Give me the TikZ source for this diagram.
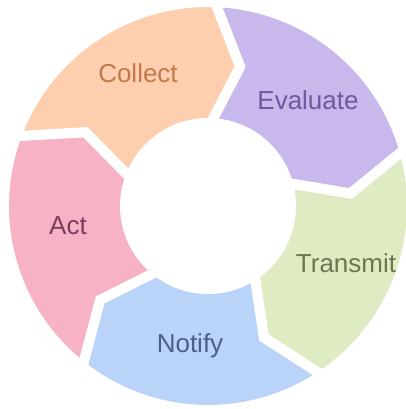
\documentclass[tikz,border=0pt]{standalone}
\usepackage{fontspec}
\setmainfont{Liberation Sans}
\definecolor{collectfill}{HTML}{FDCFAE}
\definecolor{collecttext}{HTML}{C17A4E}
\definecolor{evalfill}{HTML}{C9B8EC}
\definecolor{evaltext}{HTML}{6B5A9E}
\definecolor{transfill}{HTML}{DFEBC3}
\definecolor{transtext}{HTML}{6C7752}
\definecolor{notifyfill}{HTML}{B9D3F9}
\definecolor{notifytext}{HTML}{4C5E8C}
\definecolor{actfill}{HTML}{F8B2C6}
\definecolor{acttext}{HTML}{7C3C5C}
% one chevron-shaped ring segment: #1 = start angle (counter-clockwise end), #2 = fill
\newcommand\cyclesegment[2]{%
  \pgfmathsetmacro\segend{#1-72}%
  \pgfmathsetmacro\tipang{#1-72-11}%
  \pgfmathsetmacro\notchang{#1-11}%
  \path[ringpart, fill=#2] (#1:204) arc[start angle=#1, end angle=\segend, radius=204]
    -- (\tipang:143) -- (\segend:83)
    arc[start angle=\segend, end angle=#1, radius=83]
    -- (\notchang:143) -- cycle;
}
\begin{document}
\begin{tikzpicture}[x=1pt, y=1pt,
  ringpart/.style={draw=white, line width=10pt, line join=miter},
  steptext/.style={font=\fontsize{26}{31}\selectfont, anchor=base, inner sep=0pt}]
\useasboundingbox (0,0) rectangle (406,409);
\begin{scope}[shift={(208,203)}]
  \cyclesegment{160}{collectfill}
  \cyclesegment{88}{evalfill}
  \cyclesegment{16}{transfill}
  \cyclesegment{-56}{notifyfill}
  \cyclesegment{232}{actfill}
\end{scope}
\node[steptext, text=collecttext] (collect) at (138,326) {Collect};
\node[steptext, text=evaltext] (evaluate) at (308,299) {Evaluate};
\node[steptext, text=transtext] (transmit) at (346,136) {Transmit};
\node[steptext, text=notifytext] (notify) at (190,56) {Notify};
\node[steptext, text=acttext] (act) at (68,174) {Act};
\end{tikzpicture}
\end{document}
